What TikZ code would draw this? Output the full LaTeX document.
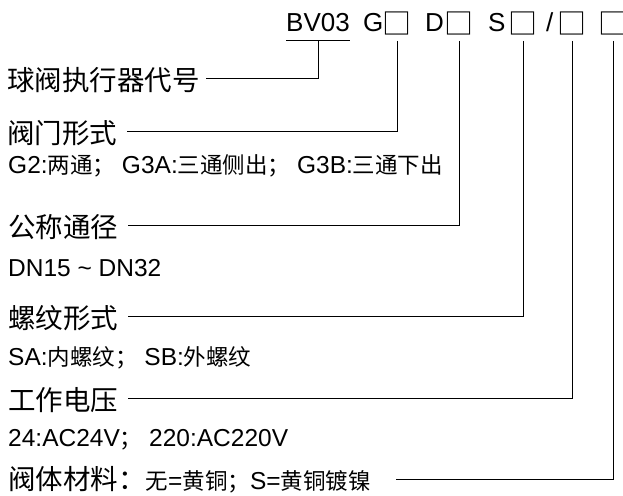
\documentclass[tikz,border=0pt]{standalone}
\usepackage{fontspec}
\setmainfont{Liberation Sans}
\newfontfamily\cjk{Noto Sans CJK SC}
\usetikzlibrary{positioning}

\newcommand{\zh}[1]{{\cjk\fontsize{22.5}{26}\selectfont #1}}
\newcommand{\slotbox}{\makebox[16pt]{□}}

\begin{document}
\begin{tikzpicture} [x = 1pt, y = 1pt, inner sep = 0pt,
    big/.style = {anchor = west, font = \cjk\fontsize{27.5}{30}\selectfont},
    small/.style = {anchor = west, font = \fontsize{24.5}{28}\selectfont},
    code/.style = {anchor = base west, font = \fontsize{26}{28}\selectfont},
    slot/.style = {anchor = base, font = \cjk\fontsize{29}{31}\selectfont},
    lead/.style = {line width = 1pt}]

\useasboundingbox (0,0) rectangle (623,-495);

% type code
\node (bv) [code] at (286,-32) {BV03};
\node (g)  [code] at (363,-32) {G};
\node (gb) [slot] at (397,-35) {\slotbox};
\node (d)  [code] at (425,-32) {D};
\node (db) [slot] at (459,-35) {\slotbox};
\node (s)  [code] at (488,-32) {S};
\node (sb) [slot] at (523,-35) {\slotbox};
\node (v)  [code] at (546,-32) {/};
\node (vb) [slot] at (572,-35) {\slotbox};
\node (mb) [slot] at (613,-35) {\slotbox};
\coordinate (cut) at (0,-41);

% labels
\node (valve)   [big]   at (7,-80)   {球阀执行器代号};
\node (form)    [big]   at (7,-133)  {阀门形式};
\node (formx)   [small] at (8,-166)  {G2:\zh{两通；} G3A:\zh{三通侧出；} G3B:\zh{三通下出}};
\node (size)    [big]   at (8,-227)  {公称通径};
\node (sizex)   [small] at (8,-268)  {DN15 \textasciitilde{} DN32};
\node (thread)  [big]   at (8,-318)  {螺纹形式};
\node (threadx) [small] at (8,-358)  {SA:\zh{内螺纹；} SB:\zh{外螺纹}};
\node (volt)    [big]   at (8,-400)  {工作电压};
\node (voltx)   [small] at (8,-440)  {24:AC24V\zh{；} 220:AC220V};
\node (body)    [small] at (8,-480)  {{\cjk\fontsize{27.5}{30}\selectfont 阀体材料：}\zh{无}=\zh{黄铜；}S=\zh{黄铜镀镍}};

\draw [lead] (bv.west |- cut) -- (bv.east |- cut);
\draw [lead] (bv.south |- cut) |- ([xshift=6pt, yshift=2pt] valve.east);
\draw [lead] (gb.south |- cut) |- ([xshift=10pt, yshift=2pt] form.east);
\draw [lead] (db.south |- cut) |- ([xshift=10pt, yshift=2pt] size.east);
\draw [lead] (sb.south |- cut) |- ([xshift=10pt, yshift=2pt] thread.east);
\draw [lead] (vb.south |- cut) |- ([xshift=10pt, yshift=2pt] volt.east);
\draw [lead] (mb.south |- cut) |- ([xshift=25pt, yshift=1pt] body.east);

\end{tikzpicture}
\end{document}
